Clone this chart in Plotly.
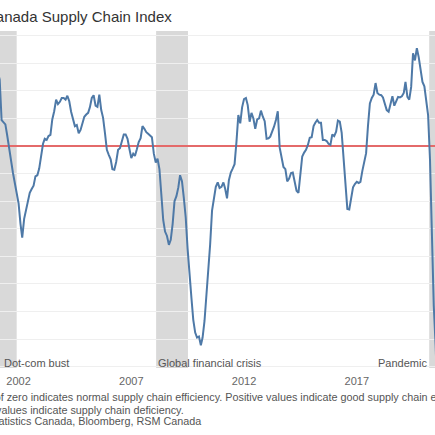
import pandas as pd
import plotly.graph_objects as go

# Monthly index values, Jan 2001 .. Aug 2020
values_2001 = [1.47, 1.34, 1.20, 0.47, 0.43, 0.39, 0.19, -0.07, -0.25, -0.48, -0.67, -0.83]
values_2002 = [-1.04, -1.41, -1.66, -1.32, -1.16, -1.00, -0.85, -0.78, -0.72, -0.55, -0.53, -0.41]
values_2003 = [-0.19, 0.04, 0.13, 0.11, 0.18, 0.20, 0.48, 0.63, 0.84, 0.76, 0.80, 0.87]
values_2004 = [0.87, 0.84, 0.91, 0.81, 0.62, 0.51, 0.36, 0.38, 0.23, 0.29, 0.42, 0.53]
values_2005 = [0.57, 0.60, 0.70, 0.87, 0.92, 0.73, 0.71, 0.93, 0.65, 0.51, 0.23, -0.07]
values_2006 = [-0.16, -0.24, -0.42, -0.43, -0.29, -0.07, -0.04, 0.11, 0.21, 0.21, 0.13, -0.05]
values_2007 = [-0.22, -0.14, -0.18, -0.06, 0.07, 0.14, 0.36, 0.31, 0.25, 0.22, 0.18, 0.16]
values_2008 = [-0.14, -0.30, -0.23, -0.42, -0.87, -1.34, -1.55, -1.63, -1.79, -1.70, -1.41, -1.00]
values_2009 = [-0.91, -0.75, -0.53, -0.64, -0.94, -1.30, -1.86, -2.37, -2.75, -3.15, -3.38, -3.47]
values_2010 = [-3.45, -3.61, -3.47, -3.17, -2.76, -2.27, -1.79, -1.17, -0.91, -0.74, -0.66, -0.76]
values_2011 = [-0.74, -0.66, -0.77, -0.95, -0.62, -0.48, -0.41, -0.33, 0.08, 0.56, 0.41, 0.70]
values_2012 = [0.85, 0.87, 0.74, 0.44, 0.60, 0.50, 0.31, 0.48, 0.50, 0.64, 0.53, 0.45]
values_2013 = [0.13, 0.14, 0.17, 0.25, 0.35, 0.47, 0.63, -0.03, -0.19, -0.38, -0.42, -0.64]
values_2014 = [-0.59, -0.49, -0.48, -0.62, -0.81, -0.85, -0.48, -0.19, -0.12, -0.07, 0.02, 0.15]
values_2015 = [0.16, 0.36, 0.42, 0.47, 0.42, 0.42, 0.11, 0.11, 0.09, 0.04, 0.02, 0.21]
values_2016 = [0.18, 0.26, 0.46, 0.44, 0.24, -0.18, -0.73, -1.14, -1.15, -0.97, -0.75, -0.69]
values_2017 = [-0.65, -0.67, -0.65, -0.45, -0.28, -0.13, 0.36, 0.77, 0.87, 0.93, 1.14, 0.96]
values_2018 = [0.93, 0.92, 0.88, 0.78, 0.65, 0.62, 0.77, 0.90, 0.73, 0.80, 0.89, 0.88]
values_2019 = [0.90, 0.96, 1.16, 0.89, 0.84, 1.07, 1.68, 1.55, 1.77, 1.61, 1.35, 1.16]
values_2020 = [1.08, 0.83, 0.56, -0.25, -1.76, -2.90, -3.61, -4.60]

index_values = (values_2001 + values_2002 + values_2003 + values_2004 + values_2005
                + values_2006 + values_2007 + values_2008 + values_2009 + values_2010
                + values_2011 + values_2012 + values_2013 + values_2014 + values_2015
                + values_2016 + values_2017 + values_2018 + values_2019 + values_2020)
dates = pd.date_range("2001-01-01", periods=len(index_values), freq="MS")

# Recession / crisis periods
period_names = ["Dot-com bust", "Global financial crisis", "Pandemic"]
period_starts = ["2001-03-01", "2008-02-07", "2020-03-19"]
period_ends = ["2001-12-01", "2009-07-07", "2021-01-01"]

tick_vals = ["2002-01-01", "2007-01-01", "2012-01-01", "2017-01-01"]
tick_text = ["2002", "2007", "2012", "2017"]

title_text = "Canada Supply Chain Index"
note_line1 = ("Note: A value of zero indicates normal supply chain efficiency. Positive values "
              "indicate good supply chain efficiency, while negative")
note_line2 = "values indicate supply chain deficiency."
note_line3 = "Source: Statistics Canada, Bloomberg, RSM Canada"

FONT = "Liberation Sans, Arial, sans-serif"
NOTE_SIZE = 10.8
W, H = 435, 435
M_T, M_B = 31, 67
PLOT_H = H - M_T - M_B


def px_x(p):
    return p / W


def px_y(p):
    return (H - M_B - p) / PLOT_H


fig = go.Figure()
fig.add_trace(go.Scatter(x=dates, y=index_values, mode="lines",
                         line=dict(color="#4e79a7", width=2), hoverinfo="skip",
                         showlegend=False))

shapes = []
for s, e in zip(period_starts, period_ends):
    shapes.append(dict(type="rect", xref="x", yref="paper", x0=s, x1=e, y0=0, y1=1,
                       fillcolor="#d9d9d9", line=dict(width=0), layer="below"))

annotations = [
    dict(text=title_text, xref="paper", yref="paper", x=px_x(173.5), y=px_y(16.5),
         xanchor="right", yanchor="middle", showarrow=False,
         font=dict(family=FONT, size=15, color="#333333")),
    dict(text=note_line1, xref="paper", yref="paper", x=px_x(-73.8), y=px_y(397),
         xanchor="left", yanchor="middle", showarrow=False,
         font=dict(family=FONT, size=NOTE_SIZE, color="#555555")),
    dict(text=note_line2, xref="paper", yref="paper", x=px_x(186), y=px_y(409.5),
         xanchor="right", yanchor="middle", showarrow=False,
         font=dict(family=FONT, size=NOTE_SIZE, color="#555555")),
    dict(text=note_line3, xref="paper", yref="paper", x=px_x(203), y=px_y(421),
         xanchor="right", yanchor="middle", showarrow=False,
         font=dict(family=FONT, size=NOTE_SIZE, color="#555555")),
    dict(text=period_names[0], xref="paper", yref="paper", x=px_x(2), y=px_y(362.5),
         xanchor="left", yanchor="middle", showarrow=False,
         font=dict(family=FONT, size=11, color="#555555")),
    dict(text=period_names[1], xref="x", yref="paper", x=period_starts[1], y=px_y(362.5),
         xanchor="left", yanchor="middle", showarrow=False, xshift=0,
         font=dict(family=FONT, size=11, color="#555555")),
    dict(text=period_names[2], xref="x", yref="paper", x=period_starts[2], y=px_y(362.5),
         xanchor="right", yanchor="middle", showarrow=False, xshift=0,
         font=dict(family=FONT, size=11, color="#555555")),
]

fig.update_layout(
    width=W, height=H, autosize=False,
    margin=dict(l=0, r=0, t=M_T, b=M_B, pad=0),
    paper_bgcolor="white", plot_bgcolor="white",
    shapes=shapes, annotations=annotations,
    xaxis=dict(range=["2001-03-06", "2020-06-21"], showgrid=False, zeroline=False,
               showline=False, ticks="", tickvals=tick_vals, ticktext=tick_text,
               ticklabelstandoff=5,
               tickfont=dict(family=FONT, size=11, color="#666666"), fixedrange=True),
    yaxis=dict(range=[-4.022, 2.083], dtick=0.5, tick0=0, showgrid=True,
               gridcolor="#efefef", gridwidth=1, showticklabels=False, ticks="",
               zeroline=True, zerolinecolor="#e46a6a", zerolinewidth=1.5,
               showline=False, fixedrange=True),
)

fig.write_html(
    "out.html",
    config={"displayModeBar": False},
    post_script="document.body.style.margin='0px';document.body.style.overflow='hidden';",
)
